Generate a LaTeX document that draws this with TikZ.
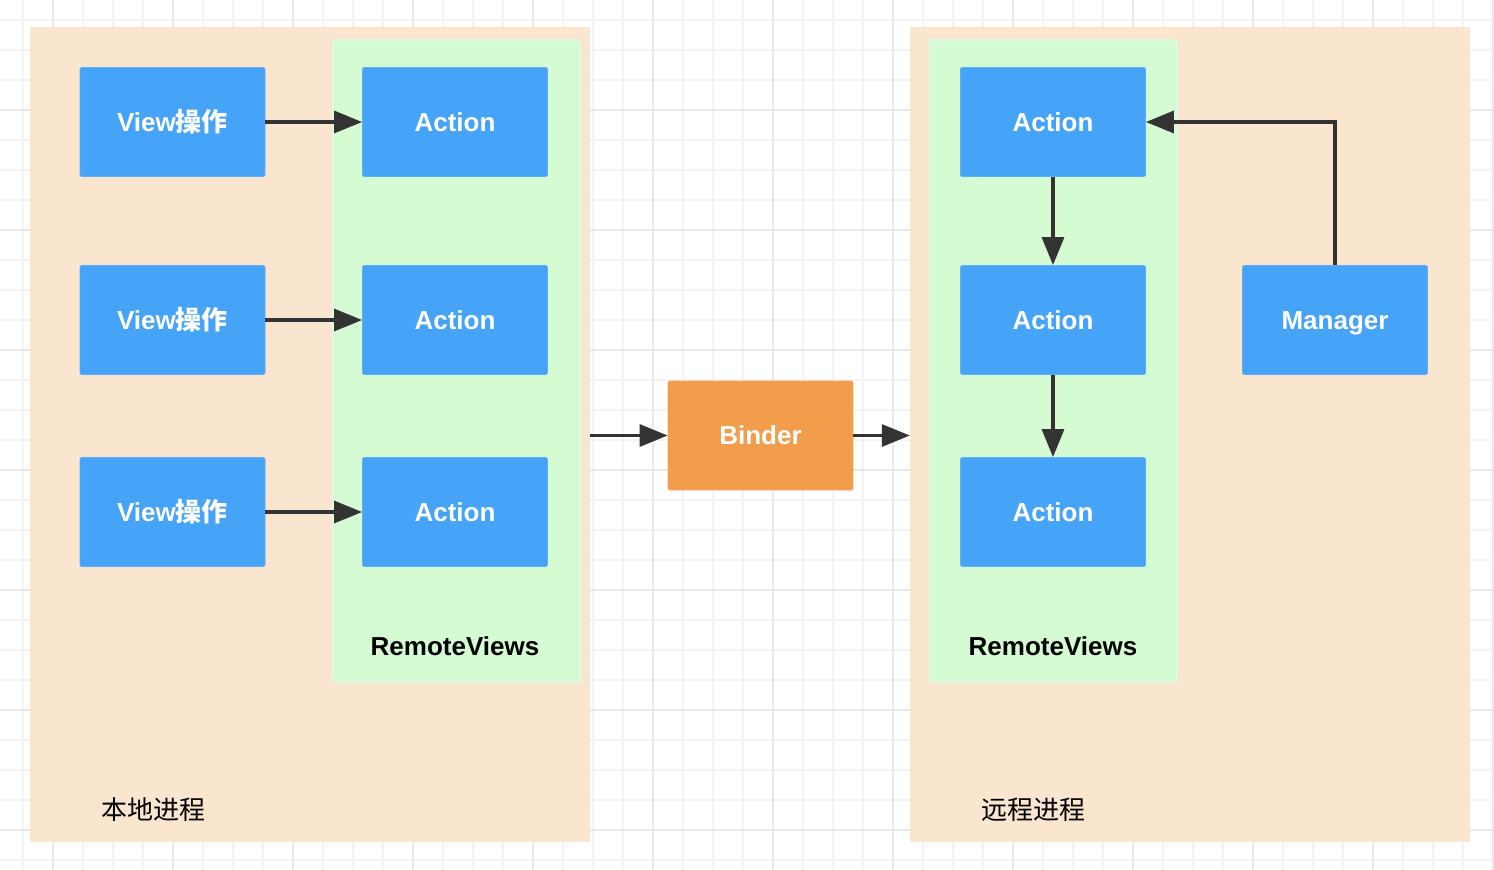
\documentclass[tikz,border=0pt]{standalone}
\usepackage{fontspec}
\setmainfont{Liberation Sans}
\newfontfamily\cjk{Noto Sans CJK SC}
\usetikzlibrary{arrows.meta}

\definecolor{peach}{HTML}{FAE5CE}
\definecolor{rvgreen}{HTML}{D5FBD2}
\definecolor{rvedge}{HTML}{DDFBE2}
\definecolor{boxblue}{HTML}{45A3F8}
\definecolor{boxedge}{HTML}{5DAFF5}
\definecolor{binderorange}{HTML}{F29D4B}
\definecolor{arrowgray}{HTML}{333333}
\definecolor{gridminor}{HTML}{F3F3F3}
\definecolor{gridmajor}{HTML}{E9E9E9}

\tikzset{
  procbox/.style={fill=peach, draw=none, inner sep=0pt, minimum width=560pt, minimum height=815pt},
  rvbox/.style={fill=rvgreen, draw=rvedge, line width=2pt, inner sep=0pt, minimum width=247pt, minimum height=642pt},
  bluebox/.style={fill=boxblue, draw=boxedge, line width=0.8pt, rounded corners=1.5pt, minimum width=185pt, minimum height=109pt, text height=19pt, text depth=0.5pt, text=white, font=\fontsize{26}{30}\selectfont\bfseries},
  binderbox/.style={bluebox, fill=binderorange, draw=binderorange!90!white},
  caption/.style={text=black, font=\fontsize{26}{30}\selectfont},
  flow/.style={line width=3.2pt, arrowgray, -{Triangle[length=28pt,width=22pt]}}
}

\begin{document}
\begin{tikzpicture}[x=1pt, y=-1pt]

  \useasboundingbox (0,0) rectangle (1494,870);
  \fill[white] (0,0) rectangle (1494,870);

  % background grid
  \foreach \gx in {23,53,...,1493} \draw[gridminor, line width=1.2pt] (\gx,0)--(\gx,870);
  \foreach \gy in {20,50,...,860} \draw[gridminor, line width=1.2pt] (0,\gy)--(1494,\gy);
  \foreach \gx in {53,173,...,1493} \draw[gridmajor, line width=1.5pt] (\gx,0)--(\gx,870);
  \foreach \gy in {110,230,...,830} \draw[gridmajor, line width=1.5pt] (0,\gy)--(1494,\gy);

  % the two processes
  \node[procbox] at (310, 434.5) (local) {};
  \node[procbox] at (1190, 434.5) (remote) {};

  \node[rvbox] at (456, 360.5) (lrv) {};
  \node[rvbox] at (1053.5, 360.5) (rrv) {};

 \node[bluebox] at (172.5, 122) (view1) {View{\cjk 操作}};
 \node[bluebox] at (172.5, 320) (view2) {View{\cjk 操作}};
 \node[bluebox] at (172.5, 512) (view3) {View{\cjk 操作}};

 \node[bluebox] at (455, 122) (lact1) {Action};
 \node[bluebox] at (455, 320) (lact2) {Action};
 \node[bluebox] at (455, 512) (lact3) {Action};

 \node[bluebox] at (1053, 122) (ract1) {Action};
 \node[bluebox] at (1053, 320) (ract2) {Action};
 \node[bluebox] at (1053, 512) (ract3) {Action};

 \node[bluebox] at (1335, 320) (manager) {Manager};
 \node[binderbox] at (760.5, 435.5) (binder) {Binder};

 \node[caption, font=\fontsize{26}{30}\selectfont\bfseries] at (455, 646) (lrvlabel) {RemoteViews};
 \node[caption, font=\fontsize{26}{30}\selectfont\bfseries] at (1053, 646) (rrvlabel) {RemoteViews};
 \node[caption] at (153, 810) (locallabel) {\cjk 本地进程};
 \node[caption] at (1033, 810) (remotelabel) {\cjk 远程进程};

 \draw[flow] (view1.east)--(lact1.west);
 \draw[flow] (view2.east)--(lact2.west);
 \draw[flow] (view3.east)--(lact3.west);

 \draw[flow] (local.east |- binder.west)--(binder.west);
 \draw[flow] (binder.east)--(remote.west |- binder.east);

 \draw[flow] (ract1.south)--(ract2.north);
 \draw[flow] (ract2.south)--(ract3.north);
 \draw[flow] (manager.north) |- (ract1.east);

\end{tikzpicture}
\end{document}
